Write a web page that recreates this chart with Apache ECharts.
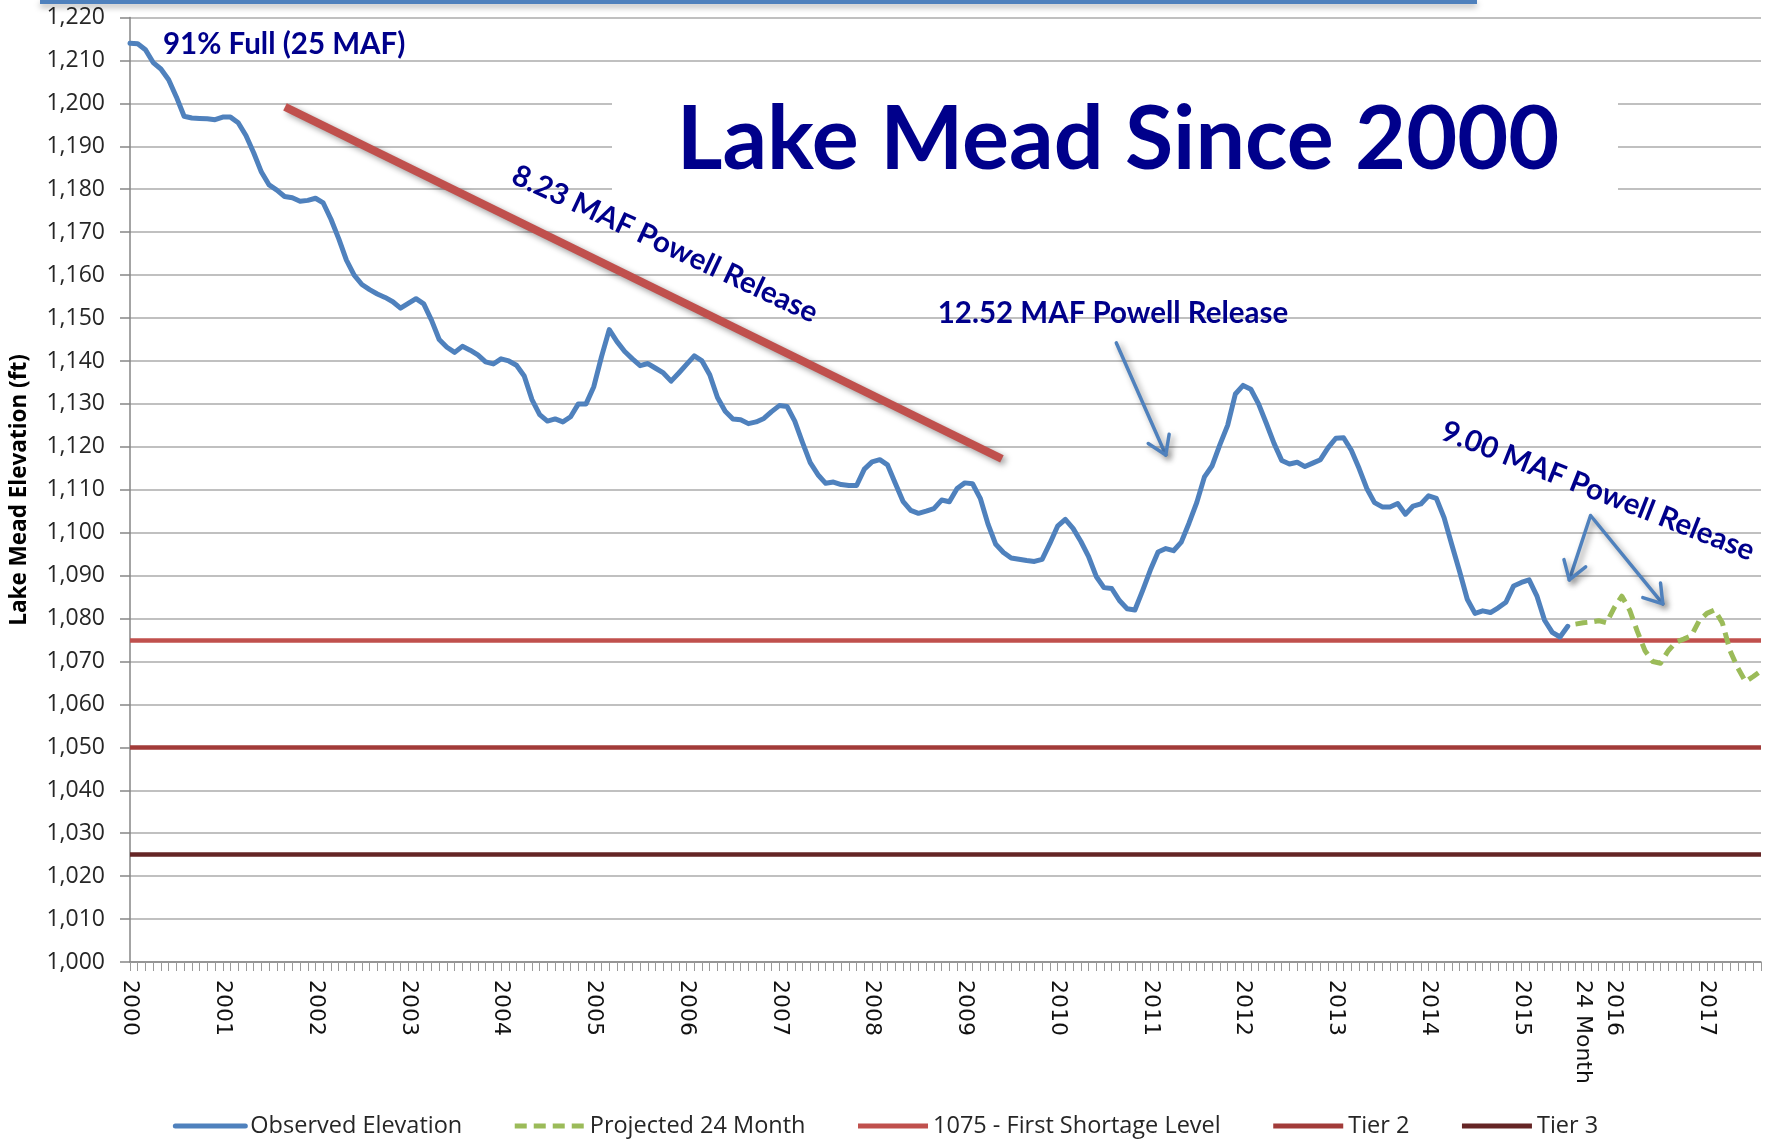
<!DOCTYPE html>
<html>
<head>
<meta charset="utf-8">
<script src="https://cdn.jsdelivr.net/npm/echarts@6/dist/echarts.min.js"></script>
<style>
html,body{margin:0;padding:0;background:#fff;}
#main{width:1771px;height:1142px;}
</style>
</head>
<body>
<div id="main"></div>
<script>
// ---------------- DATA ----------------
const startYear = 2000;
const monthCount = 212; // Jan 2000 .. Aug 2017
const yearLabels = ['2000','2001','2002','2003','2004','2005','2006','2007','2008','2009','2010','2011','2012','2013','2014','2015','2016','2017'];
const projectionLabel = '24 Month';
const projectionLabelIndex = 188;

// Observed Lake Mead elevation (ft), monthly from Jan 2000
const observed = [
1214.0,1213.9,1212.5,1209.5,1208.0,1205.5,1201.5,1197.0,1196.6,1196.5,
1196.4,1196.2,1196.8,1196.8,1195.5,1192.5,1188.5,1184.0,1181.0,1179.8,
1178.3,1178.0,1177.2,1177.4,1177.9,1176.8,1173.0,1168.5,1163.5,1160.0,
1157.8,1156.6,1155.6,1154.8,1153.8,1152.3,1153.4,1154.5,1153.3,1149.5,
1145.0,1143.2,1142.0,1143.4,1142.5,1141.4,1139.8,1139.3,1140.5,
1140.0,1139.0,1136.5,1131.0,1127.5,1126.0,1126.5,1125.8,1127.0,1130.0,
1130.0,1134.0,1141.0,1147.3,1144.5,1142.2,1140.5,1138.9,1139.4,1138.3,
1137.2,1135.3,1137.2,1139.2,1141.2,1140.0,1136.8,1131.5,1128.3,1126.5,
1126.3,1125.4,1125.8,1126.6,1128.2,1129.6,1129.4,1126.0,1121.0,1116.3,
1113.5,1111.5,1111.8,1111.2,1111.0,1111.0,1114.8,1116.5,
1117.0,1115.8,1111.5,1107.3,1105.2,1104.5,1105.0,1105.6,1107.6,1107.2,
1110.3,1111.6,1111.4,1108.0,1102.0,1097.3,1095.4,1094.1,1093.8,1093.5,
1093.3,1093.8,1097.5,1101.5,1103.1,1101.0,1098.0,1094.5,1089.8,1087.2,
1087.0,1084.2,1082.3,1082.0,1086.5,1091.3,1095.5,1096.3,1095.8,1097.8,
1102.2,1107.0,1113.0,1115.6,1120.5,1125.0,1132.3,1134.3,1133.4,1130.0,
1125.5,1120.8,1116.8,1116.0,1116.4,1115.4,1116.2,1117.0,1119.8,1122.0,
1122.1,1119.2,1115.0,1110.3,1107.0,1106.0,1106.0,1106.8,1104.3,1106.2,
1106.7,1108.6,1108.0,1103.5,1097.2,1091.0,1084.5,1081.2,1081.8,1081.4,
1082.5,1083.8,1087.6,1088.4,1089.0,1085.3,1079.6,1076.8,1075.7,1078.2
];

// Projected 24 Month (ft), continuing right after observed
const projected = [
1078.7,1079.0,1079.2,1079.5,1079.0,1082.5,1085.2,1082.0,1077.0,1072.5,
1070.0,1069.6,1072.5,1074.5,1075.2,1076.0,1079.5,1081.2,1082.0,1079.0,
1072.5,1068.5,1065.3,1066.5,1067.8
];

const shortageLevel = 1075;
const tier2Level = 1050;
const tier3Level = 1025;

// ---------------- BUILD ----------------
const categories = [];
for (let k = 0; k < monthCount; k++) {
  const y = startYear + Math.floor(k / 12);
  const m = (k % 12) + 1;
  categories.push(y + '-' + (m < 10 ? '0' + m : m));
}
const xLabelMap = {};
yearLabels.forEach((lab, n) => { xLabelMap[n * 12] = lab; });
xLabelMap[projectionLabelIndex] = projectionLabel;

const projectedSeries = new Array(observed.length).fill(null).concat(projected);

const NAVY = '#00008B';
const ANN_FONT = 'Lato';

function levelSeries(name, level, color) {
  return {
    name: name, type: 'line', data: [], color: color,
    lineStyle: {color: color, width: 5},
    symbol: 'none',
    markLine: {
      silent: true, symbol: ['none','none'], animation: false,
      label: {show: false},
      lineStyle: {color: color, width: 4.5, type: 'solid'},
      data: [{yAxis: level}]
    }
  };
}

const option = {
  animation: false,
  backgroundColor: '#ffffff',
  grid: {left: 130, right: 10, top: 17.5, bottom: 180, containLabel: false},
  legend: {
    data: ['Observed Elevation','Projected 24 Month','1075 - First Shortage Level','Tier 2','Tier 3'],
    left: 'center', top: 1109,
    itemWidth: 70, itemHeight: 14, itemGap: 50,
    lineStyle: {width: 5},
    itemStyle: {opacity: 0},
    textStyle: {fontFamily: 'Open Sans', fontSize: 23.5, color: '#262626'}
  },
  xAxis: {
    type: 'category',
    data: categories,
    boundaryGap: false,
    axisLine: {lineStyle: {color: '#868686', width: 1.5}},
    axisTick: {show: true, interval: 0, length: 9, lineStyle: {color: '#9a9a9a', width: 1}},
    axisLabel: {
      interval: 0, rotate: -90, margin: 18,
      fontFamily: 'DejaVu Sans', fontSize: 22, color: '#111',
      formatter: (v, idx) => xLabelMap[idx] || ''
    },
    splitLine: {show: false}
  },
  yAxis: {
    type: 'value', min: 1000, max: 1220, interval: 10,
    axisLine: {show: true, lineStyle: {color: '#868686', width: 1.5}},
    axisTick: {show: true, length: 10, lineStyle: {color: '#868686', width: 1.5}},
    axisLabel: {
      margin: 25, fontFamily: 'Open Sans', fontSize: 23, color: '#262626',
      formatter: v => v.toLocaleString('en-US')
    },
    splitLine: {lineStyle: {color: '#ABABAB', width: 1.5}}
  },
  series: [
    {
      name: 'Observed Elevation', type: 'line', data: observed,
      color: '#4F81BD', symbol: 'none', z: 5,
      lineStyle: {color: '#4F81BD', width: 5, join: 'round', cap: 'round'}
    },
    {
      name: 'Projected 24 Month', type: 'line', data: projectedSeries,
      color: '#9BBB59', symbol: 'none', z: 5,
      lineStyle: {color: '#9BBB59', width: 5, type: [12, 7], join: 'round'}
    },
    levelSeries('1075 - First Shortage Level', shortageLevel, '#C0504D'),
    levelSeries('Tier 2', tier2Level, '#A23B39'),
    levelSeries('Tier 3', tier3Level, '#652525')
  ]
};

const chart = echarts.init(document.getElementById('main'), null, {renderer: 'canvas'});
chart.setOption(option);

// --------- annotations positioned through the chart's own coordinate system ---------
const pA = chart.convertToPixel({gridIndex: 0}, [0, 1100]);
const pB = chart.convertToPixel({gridIndex: 0}, [monthCount - 1, 1100]);
function P(i, v) {
  const x = pA[0] + (pB[0] - pA[0]) * i / (monthCount - 1);
  const y = chart.convertToPixel({gridIndex: 0}, [0, v])[1];
  return [x, y];
}

// annotation anchors in data space [monthIndex, elevation]
const trendStart = [20.05, 1199.2], trendEnd = [112.8, 1117.2];
const arrow1From = [127.6, 1144.2], arrow1To = [134.0, 1118.1];
const arrow2Apex = [188.95, 1104.0], arrow2Left = [186.2, 1089.0], arrow2Right = [198.3, 1083.4];

const SHADOW = {shadowColor: 'rgba(0,0,0,0.4)', shadowBlur: 6, shadowOffsetX: 3, shadowOffsetY: 3};
const ARROW_STYLE = Object.assign({stroke: '#4F81BD', lineWidth: 3.5, fill: null, lineCap: 'round', lineJoin: 'round'}, SHADOW);

function head(fromPx, tipPx) {
  const dx = tipPx[0] - fromPx[0], dy = tipPx[1] - fromPx[1];
  const len = Math.sqrt(dx*dx + dy*dy);
  const ux = -dx/len, uy = -dy/len;
  const a = 33 * Math.PI / 180, L = 21;
  const r = (s) => [tipPx[0] + L*(ux*Math.cos(s) - uy*Math.sin(s)), tipPx[1] + L*(ux*Math.sin(s) + uy*Math.cos(s))];
  return {type: 'polyline', z: 60, shape: {points: [r(a), tipPx, r(-a)]}, style: ARROW_STYLE};
}

const t0 = P(...trendStart), t1 = P(...trendEnd);
const a1f = P(...arrow1From), a1t = P(...arrow1To);
const a2a = P(...arrow2Apex), a2l = P(...arrow2Left), a2r = P(...arrow2Right);

const graphics = [
  // top decorative bar
  {type: 'rect', z: 60, shape: {x: 40, y: 0, width: 1437, height: 4},
   style: {fill: '#4F81BD', shadowColor: 'rgba(0,0,0,0.35)', shadowBlur: 6, shadowOffsetY: 3}},
  // white panel behind title
  {type: 'rect', z: 50, shape: {x: 612, y: 66, width: 1006, height: 140}, style: {fill: '#ffffff'}},
  {type: 'text', z: 100, x: 1118, y: 141,
   style: {text: 'Lake Mead Since 2000', fill: NAVY, font: 'bold 88px ' + ANN_FONT, align: 'center', verticalAlign: 'middle'}},
  {type: 'text', z: 100, x: 163, y: 44,
   style: {text: '91% Full (25 MAF)', fill: NAVY, font: 'bold 29.5px ' + ANN_FONT, align: 'left', verticalAlign: 'middle'}},
  // trend line
  {type: 'line', z: 60, shape: {x1: t0[0], y1: t0[1], x2: t1[0], y2: t1[1]},
   style: Object.assign({stroke: '#C0504D', lineWidth: 8}, SHADOW)},
  {type: 'text', z: 100, x: 665, y: 244, rotation: -25 * Math.PI / 180,
   style: {text: '8.23 MAF Powell Release', fill: NAVY, font: 'bold 29.5px ' + ANN_FONT, align: 'center', verticalAlign: 'middle'}},
  {type: 'text', z: 100, x: 1113, y: 313,
   style: {text: '12.52 MAF Powell Release', fill: NAVY, font: 'bold 29.5px ' + ANN_FONT, align: 'center', verticalAlign: 'middle'}},
  {type: 'text', z: 100, x: 1598, y: 491, rotation: -21.5 * Math.PI / 180,
   style: {text: '9.00 MAF Powell Release', fill: NAVY, font: 'bold 29.5px ' + ANN_FONT, align: 'center', verticalAlign: 'middle'}},
  // arrow 1
  {type: 'line', z: 60, shape: {x1: a1f[0], y1: a1f[1], x2: a1t[0], y2: a1t[1]}, style: ARROW_STYLE},
  head(a1f, a1t),
  // arrow 2 (V)
  {type: 'polyline', z: 60, shape: {points: [a2l, a2a, a2r]}, style: ARROW_STYLE},
  head(a2a, a2l),
  head(a2a, a2r),
  // y axis title
  {type: 'text', z: 100, x: 20, y: 490, rotation: Math.PI / 2,
   style: {text: 'Lake Mead Elevation (ft)', fill: '#000', font: 'bold 22.5px Open Sans', align: 'center', verticalAlign: 'middle'}}
];
chart.setOption({graphic: {elements: graphics}});
</script>
</body>
</html>
